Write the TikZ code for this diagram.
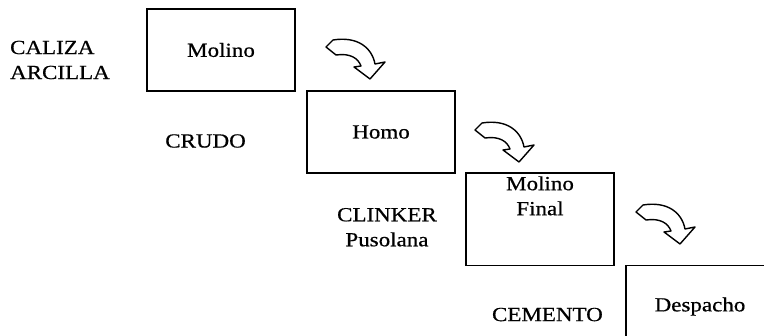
\documentclass[tikz,border=0pt]{standalone}
\usepackage{fontspec}
\setmainfont{Liberation Serif}[FakeStretch=1.15, FakeBold=0.6]
\usetikzlibrary{positioning}

\tikzset{
    bendarrow/.pic={
        \draw[line width=1.4pt, fill=white, line join=round]
            (7,0) .. controls (32,-4) and (46,8) .. (49,24) -- (59,22) -- (44,39)
            -- (28,27) -- (35,26) .. controls (32,18) and (24,13) .. (10,15) -- (0,7) -- cycle;
    }
}

\begin{document}
\begin{tikzpicture}[
                x=1pt, y=-1pt,
                font=\fontsize{20}{25}\selectfont,
                box/.style={rectangle, draw=black, line width=1.5pt, outer sep=0pt, minimum width=148pt, minimum height=82pt, align=center},
                lbl/.style={inner sep=0pt, align=center}
            ]
                \useasboundingbox (0,0) rectangle (764,336);
                \clip (0,0) rectangle (764,336);

                \node (molino) [box, anchor=north west] at (147,9) {Molino};
                \node (horno) [box, below right=0pt and 12pt of molino.south east] {Homo};
                \node (final) [box, text depth=47pt, below right=0pt and 11pt of horno.south east] {Molino\\Final};
                \node (despacho) [box, below right=0pt and 12pt of final.south east] {Despacho};

                \node (caliza) [lbl, align=left, left=37pt of molino, yshift=-10pt] {CALIZA\\ARCILLA};
                \node (crudo) [lbl, left=61pt of horno, yshift=-9pt] {CRUDO};
                \node (clinker) [lbl, left=29pt of final, yshift=-8pt] {CLINKER\\Pusolana};
                \node (cemento) [lbl, left=23pt of despacho, yshift=-8pt] {CEMENTO};

                % curved arrows between the steps
                \pic at ([xshift=31pt, yshift=-31pt]molino.north east) {bendarrow};
                \pic at ([xshift=20pt, yshift=-32pt]horno.north east) {bendarrow};
                \pic at ([xshift=22pt, yshift=-32pt]final.north east) {bendarrow};
            \end{tikzpicture}
\end{document}
